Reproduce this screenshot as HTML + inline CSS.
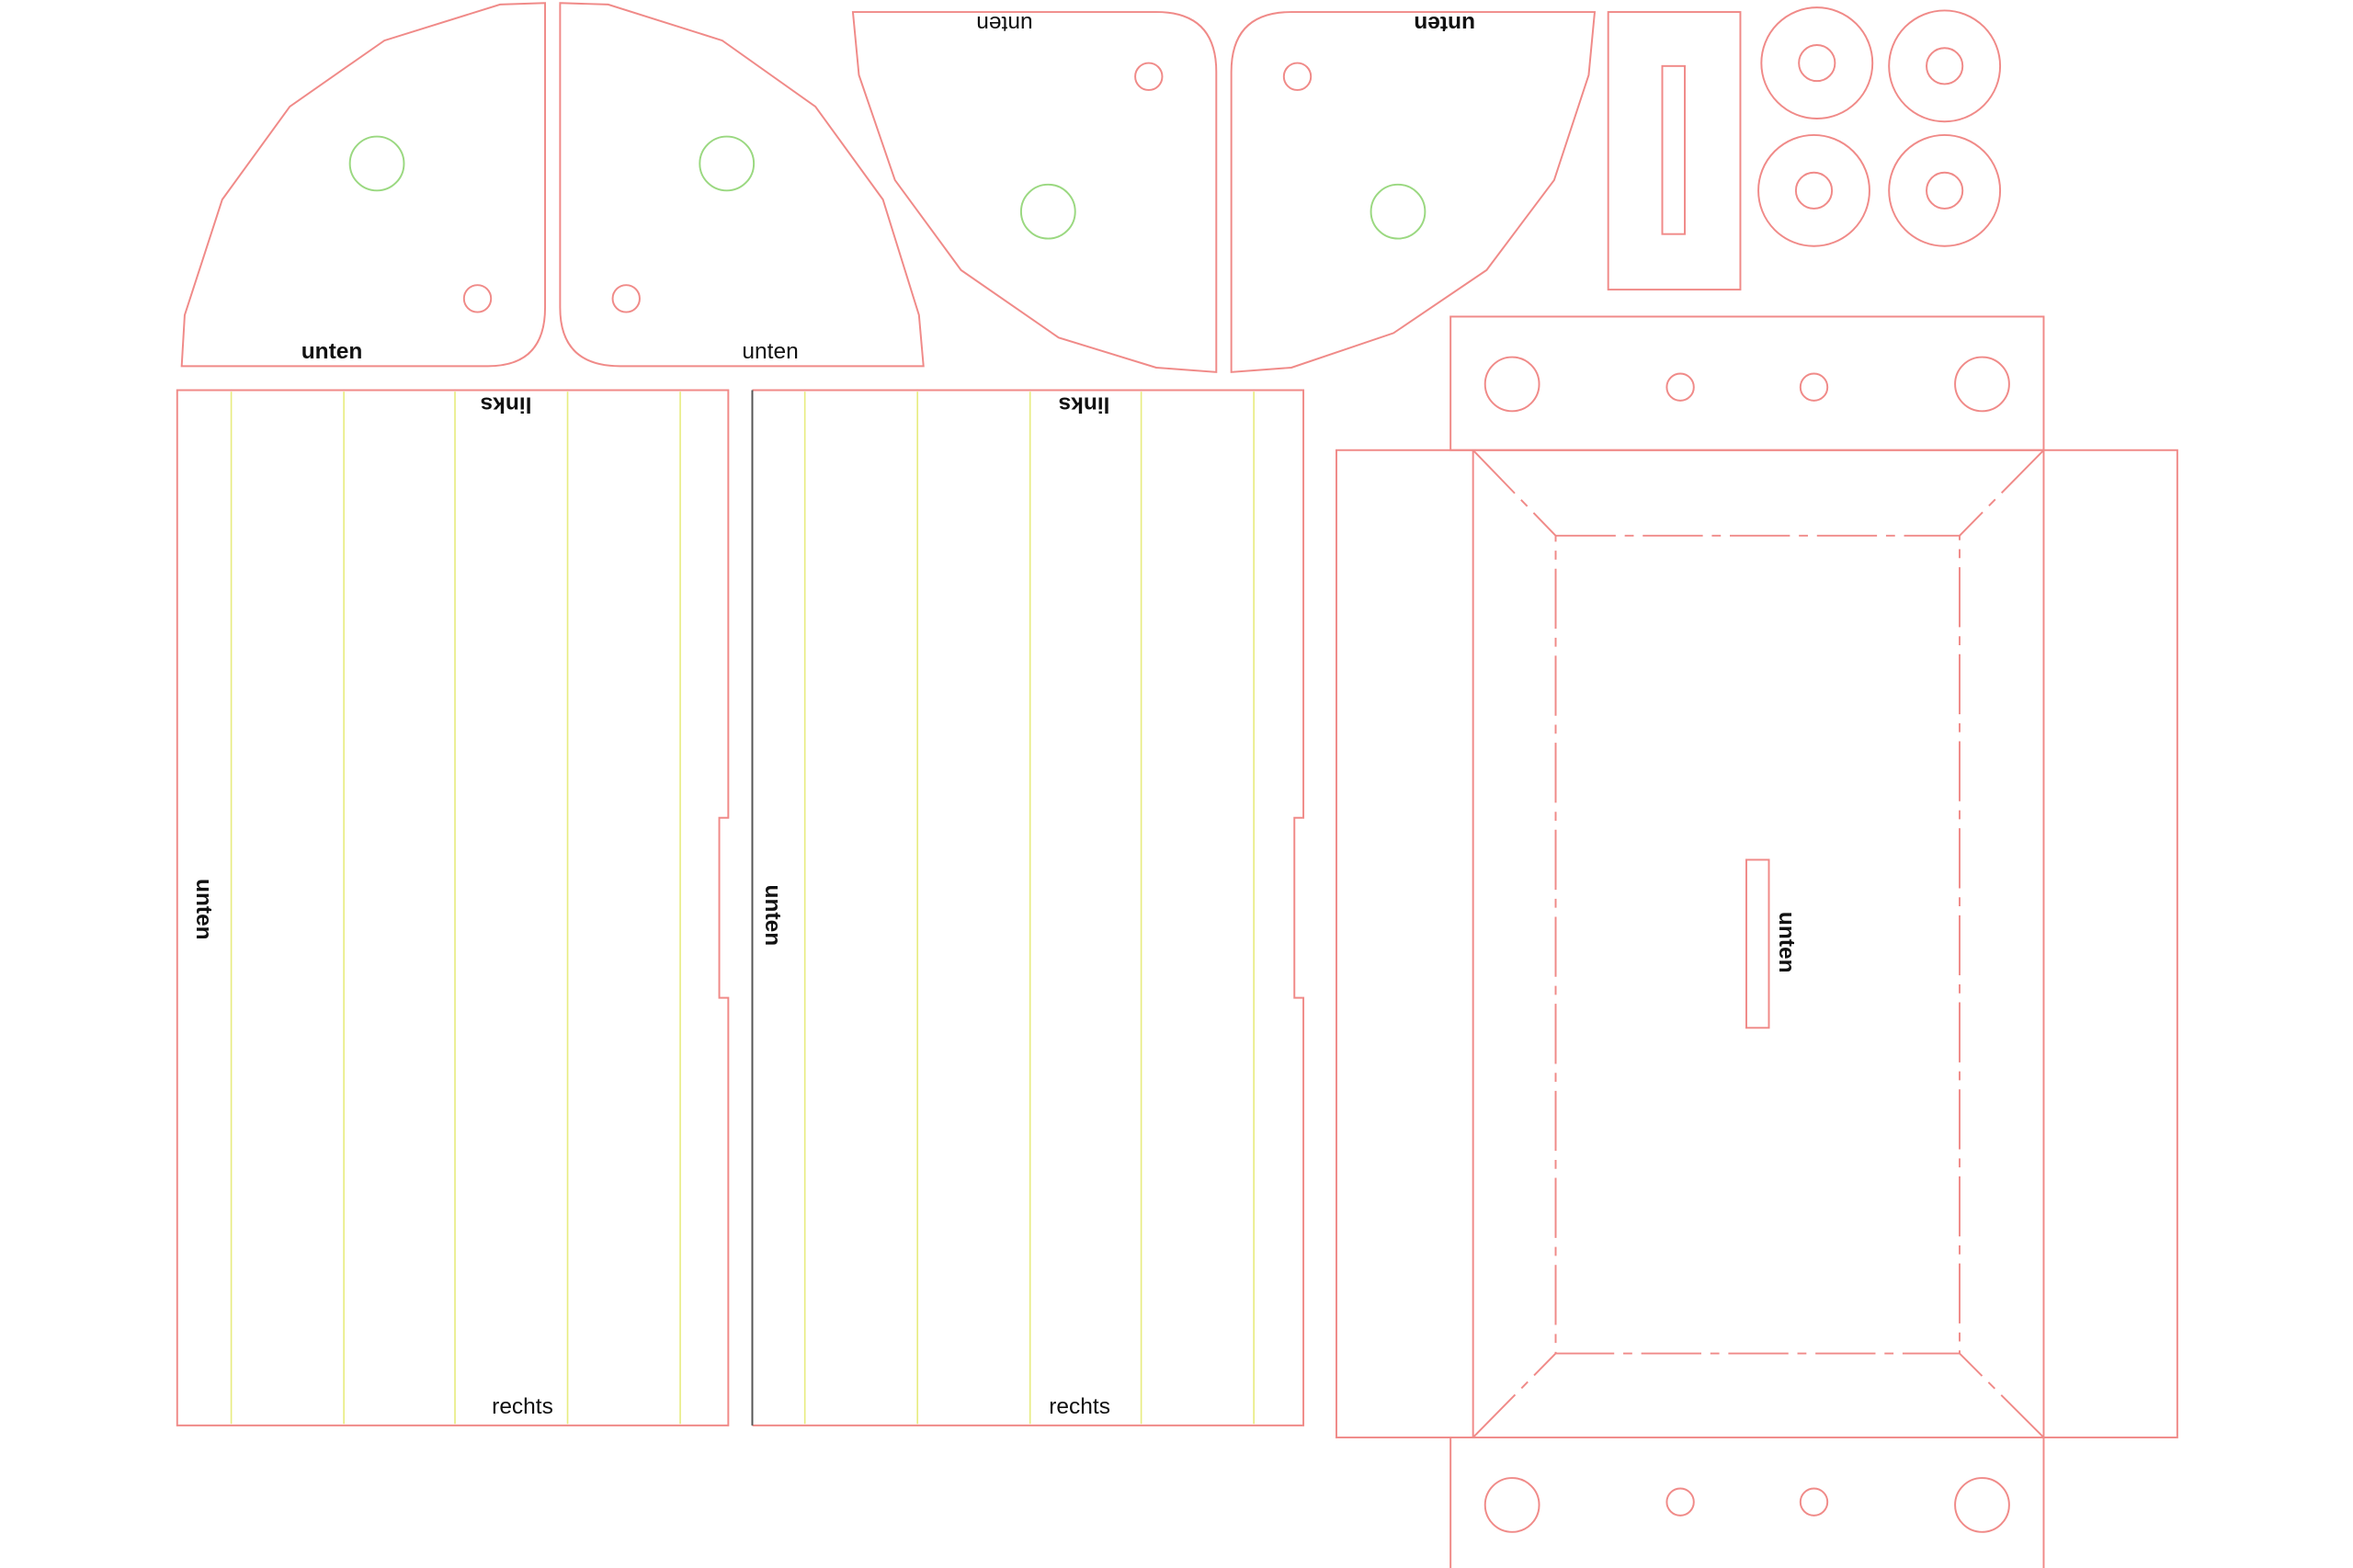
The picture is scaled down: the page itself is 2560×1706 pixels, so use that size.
<!DOCTYPE html>
<html><head><meta charset="utf-8"><style>
html,body{margin:0;padding:0;background:#fff;}
svg{display:block;}
text{font-family:"Liberation Sans",sans-serif;font-size:15px;fill:#111;}
</style></head><body>
<svg width="2560" height="1706" viewBox="0 0 1567 1045" preserveAspectRatio="none" xmlns="http://www.w3.org/2000/svg">
<g fill="none" stroke="#f08a88" stroke-width="1.2">
<path d="M121,244 L123,210 L148,133 L193,71 L256,27 L333,3 L363,2 L363,205 Q363,244 325,244 Z"/>
<circle cx="318" cy="199" r="9"/>
<path d="M373,2 L405,3 L481,27 L543,71 L588,133 L612,210 L615,244 L413,244 Q373,244 373,205 Z"/>
<circle cx="417" cy="199" r="9"/>
<path d="M568,8 L770,8 Q810,8 810,48 L810,248 L770,245 L705,225 L640,180 L596,120 L572,50 Z"/>
<circle cx="765" cy="51" r="9"/>
<path d="M1062,8 L860,8 Q820,8 820,48 L820,248 L860,245 L928,222 L990,180 L1035,120 L1058,50 Z"/>
<circle cx="864" cy="51" r="9"/>
<rect x="1071" y="8" width="88" height="185"/>
<rect x="1107" y="44" width="15" height="112"/>
<circle cx="1210" cy="42" r="37"/><circle cx="1210" cy="42" r="12"/>
<circle cx="1295" cy="44" r="37"/><circle cx="1295" cy="44" r="12"/>
<circle cx="1208" cy="127" r="37"/><circle cx="1208" cy="127" r="12"/>
<circle cx="1295" cy="127" r="37"/><circle cx="1295" cy="127" r="12"/>
<path d="M118,260 L485,260 L485,545 L479,545 L479,665 L485,665 L485,950 L118,950 Z"/>
<path d="M501,260 L868,260 L868,545 L862,545 L862,665 L868,665 L868,950 L501,950"/>
<rect x="966" y="211" width="395" height="89"/>
<circle cx="1007" cy="256" r="18"/><circle cx="1119" cy="258" r="9"/><circle cx="1208" cy="258" r="9"/><circle cx="1320" cy="256" r="18"/>
<rect x="890" y="300" width="560" height="658"/>
<line x1="981" y1="300" x2="981" y2="958"/><line x1="1361" y1="300" x2="1361" y2="958"/>
<path d="M966,958 L966,1045 M1361,958 L1361,1045"/>
<circle cx="1007" cy="1003" r="18"/><circle cx="1119" cy="1001" r="9"/><circle cx="1208" cy="1001" r="9"/><circle cx="1320" cy="1003" r="18"/>
<g stroke-dasharray="40,6,6,6">
<rect x="1036" y="357" width="269" height="545"/>
<line x1="981" y1="300" x2="1036" y2="357"/><line x1="1361" y1="300" x2="1305" y2="357"/>
<line x1="981" y1="958" x2="1036" y2="902"/><line x1="1361" y1="958" x2="1305" y2="902"/>
</g>
<rect x="1163" y="573" width="15" height="112"/>
</g>
<line x1="501" y1="260" x2="501" y2="950" stroke="#555" stroke-width="1.2"/>
<g stroke="#e8ec80" stroke-width="1">
<line x1="154" y1="261" x2="154" y2="949"/><line x1="229" y1="261" x2="229" y2="949"/><line x1="303" y1="261" x2="303" y2="949"/><line x1="378" y1="261" x2="378" y2="949"/><line x1="453" y1="261" x2="453" y2="949"/>
<line x1="536" y1="261" x2="536" y2="949"/><line x1="611" y1="261" x2="611" y2="949"/><line x1="686" y1="261" x2="686" y2="949"/><line x1="760" y1="261" x2="760" y2="949"/><line x1="835" y1="261" x2="835" y2="949"/>
</g>
<g fill="none" stroke="#9ad880" stroke-width="1.2">
<circle cx="251" cy="109" r="18"/><circle cx="484" cy="109" r="18"/>
<circle cx="698" cy="141" r="18"/><circle cx="931" cy="141" r="18"/>
</g>
<g text-anchor="middle">
<text x="221" y="239" font-weight="bold">unten</text>
<text x="513" y="239">unten</text>
<text transform="translate(669,11) rotate(180)">unten</text>
<text transform="translate(962,11) rotate(180)" font-weight="bold">unten</text>
<text transform="translate(337,265) rotate(180)" font-weight="bold">links</text>
<text transform="translate(722,265) rotate(180)" font-weight="bold">links</text>
<text x="348" y="942">rechts</text>
<text x="719" y="942">rechts</text>
<text transform="translate(131,606) rotate(90)" font-weight="bold">unten</text>
<text transform="translate(510,610) rotate(90)" font-weight="bold">unten</text>
<text transform="translate(1185,628) rotate(90)" font-weight="bold">unten</text>
</g>
</svg>
</body></html>
